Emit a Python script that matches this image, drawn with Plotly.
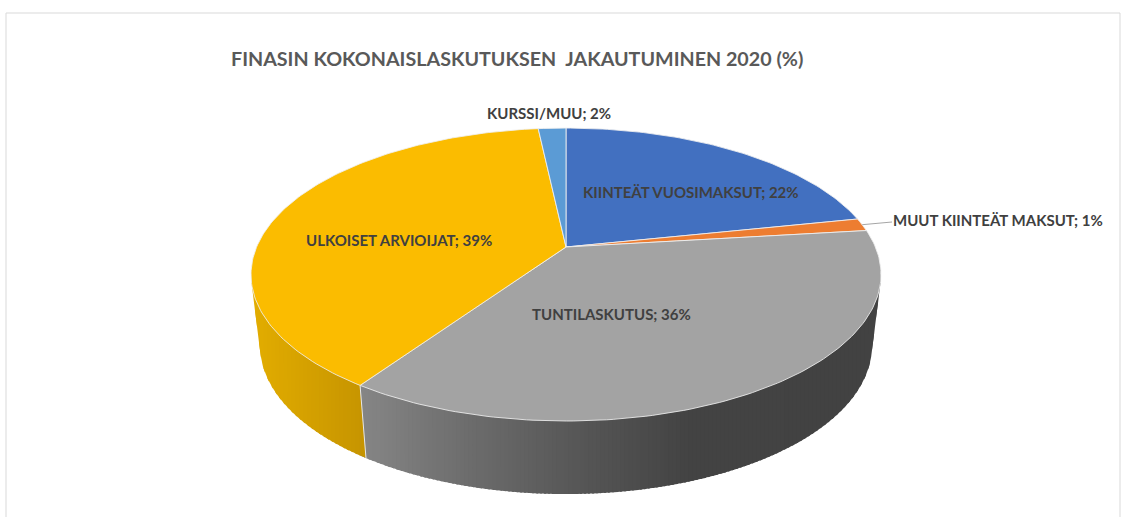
import numpy as np
import plotly.graph_objects as go

# Data
categories = ["KIINTEÄT VUOSIMAKSUT", "MUUT KIINTEÄT MAKSUT", "TUNTILASKUTUS", "ULKOISET ARVIOIJAT", "KURSSI/MUU"]
shares = [21.7, 1.4, 36.4, 38.8, 1.7]
shown_percent = [22, 1, 36, 39, 2]
title = "FINASIN KOKONAISLASKUTUKSEN  JAKAUTUMINEN 2020 (%)"

# Styles and layout
top_colors = ["#4270C0", "#ED7D31", "#A3A3A3", "#FBBC00", "#5B9BD5"]
label_xy = [(690.5, 192), (998, 220), (611.5, 314), (399, 240), (548.5, 113)]
W, H = 1126, 517
CX = 566.0
K = 0.188
TOP = dict(A=309.4, b=141.3, y0=247.0)
BOT = dict(A=300.5, b=142.8, y0=318.2)
WALL_TOP_Y = 274.6
STRIP = 4.0
OVERLAP = 2.0


def project(theta, g, r=1.0):
    """3D-pie perspective: theta clockwise from 12 o'clock on a disc of radius r."""
    u, v = r * np.sin(theta), r * np.cos(theta)
    d = 1 + K * v
    return CX + g["A"] * u / d, g["y0"] - g["b"] * v / d


def lerp_hex(stops, x):
    xs = [s[0] for s in stops]
    rgb = [np.interp(x, xs, [s[1][i] for s in stops]) for i in range(3)]
    return "rgb(%d,%d,%d)" % tuple(int(round(c)) for c in rgb)


GOLD_SIDE = [(251, (226, 173, 0)), (365, (198, 148, 0))]
GREY_SIDE = [(359, (134, 134, 134)), (470, (108, 108, 108)), (570, (88, 88, 88)), (690, (67, 67, 67)), (881, (66, 66, 66))]

fr = np.array(shares, dtype=float) / sum(shares)
edges = np.concatenate([[0], np.cumsum(fr)]) * 2 * np.pi

fig = go.Figure()


def poly(x, y, fill, line=None, width=0.0):
    fig.add_trace(go.Scatter(
        x=list(x), y=list(y), mode="lines", fill="toself", fillcolor=fill,
        line=dict(color=line or fill, width=width), hoverinfo="skip", showlegend=False,
    ))


def lower_hull(points):
    """Lower boundary (larger y) of the convex hull, sorted by x."""
    pts = sorted(points)
    hull = []
    for p in pts:
        while len(hull) >= 2:
            (x1, y1), (x2, y2) = hull[-2], hull[-1]
            if (x2 - x1) * (p[1] - y1) - (y2 - y1) * (p[0] - x1) >= 0:
                hull.pop()
            else:
                break
        hull.append(p)
    return np.array(hull)


# Outline of the pie wall: hull of the top rim and the bottom rim
angles = np.radians(np.arange(0, 360, 0.25))
tx, ty = project(angles, TOP)
bx, by = project(angles, BOT)
hull = lower_hull(list(zip(tx, ty)) + list(zip(bx, by)))


def y_low(x):
    return np.interp(x, hull[:, 0], hull[:, 1])


def strip(x0, x1, limit, stops):
    c = lerp_hex(stops, (x0 + x1) / 2)
    xe = min(x1 + OVERLAP, limit)
    # lower edge keeps every hull vertex, so the outline stays smooth
    inner = hull[(hull[:, 0] > x0) & (hull[:, 0] < xe)]
    xs = np.concatenate([[x0], inner[:, 0], [xe]])
    ys = y_low(xs)
    poly(np.concatenate([[x0], xs, [xe, x0]][0:1] + [xs] + [[xe, x0]]),
         np.concatenate([[WALL_TOP_Y], ys, [WALL_TOP_Y, WALL_TOP_Y]]), c, c, 0)


xa, ya = project(edges[3], TOP)
xb, yb = project(edges[3], BOT)
x_min, x_max = hull[:, 0].min(), hull[:, 0].max()

# Grey wall runs from the seam to the right, gold wall from the left up to the seam
grey_xs = np.unique(np.concatenate([np.arange(xa, x_max, STRIP), [x_max]]))
for x0, x1 in zip(grey_xs[:-1], grey_xs[1:]):
    strip(x0, x1, x_max, GREY_SIDE)
gold_xs = np.unique(np.concatenate([np.arange(x_min, xa, STRIP), [xa]]))
for x0, x1 in zip(gold_xs[:-1], gold_xs[1:]):
    strip(x0, x1, xa, GOLD_SIDE)
seam_c = lerp_hex(GOLD_SIDE, xb)
poly([xa, xb, xa, xa], [ya, yb, y_low(xa), ya], seam_c, seam_c, 0)

# Seam between the two visible wall colours
fig.add_trace(go.Scatter(x=[xa, xb], y=[ya, yb], mode="lines",
                         line=dict(color="#E8E8E8", width=1), hoverinfo="skip", showlegend=False))

# Top of the pie
for i in range(len(shares)):
    ts = np.linspace(edges[i], edges[i + 1], max(4, int(fr[i] * 360)))
    rx, ry = project(ts, TOP)
    ax, ay = project(0.0, TOP, 0.0)
    poly(np.concatenate([[ax], rx, [ax]]), np.concatenate([[ay], ry, [ay]]),
         top_colors[i], "rgba(240,240,240,0.85)", 1)

# Leader line of the small slice
tm = (edges[1] + edges[2]) / 2
lx, ly = project(tm, TOP)
fig.add_trace(go.Scatter(x=[lx, label_xy[1][0] - 106], y=[ly, label_xy[1][1] + 2], mode="lines",
                         line=dict(color="#A6A6A6", width=1), hoverinfo="skip", showlegend=False))

FONT = "Lato"
for cat, pct, (x, y) in zip(categories, shown_percent, label_xy):
    fig.add_annotation(x=x, y=y, xref="x", yref="y", text=f"<b>{cat}; {pct}%</b>", showarrow=False,
                       font=dict(family=FONT, size=15, color="#404040"), xanchor="center", yanchor="middle")
fig.add_annotation(x=517, y=58, xref="x", yref="y", text=f"<b>{title.replace('  ', '&nbsp; ')}</b>", showarrow=False,
                   font=dict(family=FONT, size=19.7, color="#595959"), xanchor="center", yanchor="middle")

fig.add_shape(type="rect", xref="x", yref="y", x0=6, y0=13, x1=1120, y1=530,
              line=dict(color="#D9D9D9", width=1), fillcolor="rgba(0,0,0,0)", layer="below")

fig.update_xaxes(range=[0, W], visible=False, fixedrange=True)
fig.update_yaxes(range=[H, 0], visible=False, fixedrange=True)
fig.update_layout(width=W, height=H, margin=dict(l=0, r=0, t=0, b=0), paper_bgcolor="white",
                  plot_bgcolor="white", showlegend=False)
fig.write_html("out.html", config={"displayModeBar": False},
               post_script="document.body.style.margin='0';document.body.style.overflow='hidden';")
